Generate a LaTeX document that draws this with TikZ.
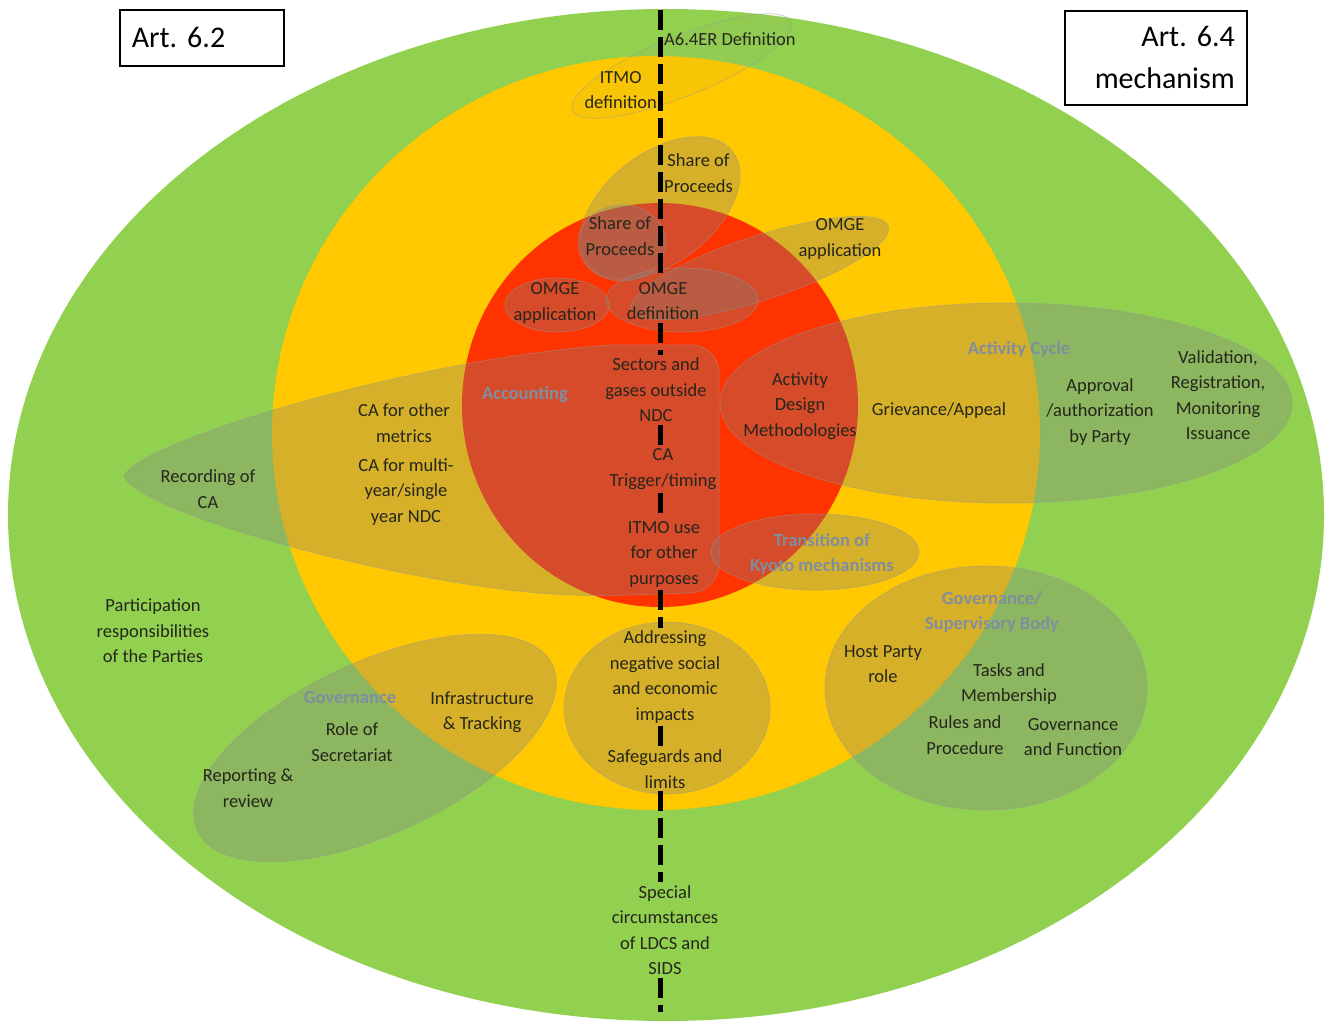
\documentclass[tikz,border=0pt]{standalone}
\usepackage{fontspec}
\setmainfont{Carlito}
\frenchspacing
\definecolor{outergreen}{RGB}{146,208,80}
\definecolor{midyellow}{RGB}{255,200,0}
\definecolor{corered}{RGB}{255,51,0}
\definecolor{txtdark}{RGB}{38,38,28}
\definecolor{graylbl}{RGB}{128,142,160}
\tikzset{
  topic/.style={fill=gray, fill opacity=0.32, draw=gray!80, draw opacity=0.45, line width=0.8pt},
  lbl/.style={align=center, text=txtdark, font=\fontsize{18.5}{25.5}\selectfont, inner xsep=1pt, inner ysep=3pt},
  glbl/.style={lbl, text=graylbl, font=\fontsize{18.5}{25.5}\selectfont\bfseries},
  divider/.style={line width=5pt, dash pattern=on 20pt off 7pt},
  artbox/.style={draw=black, line width=1.6pt, fill=white, font=\fontsize{30}{42}\selectfont, inner xsep=12pt, inner ysep=0pt}
}
\begin{document}
\begin{tikzpicture}[x=1pt,y=-1pt]
\useasboundingbox (0,0) rectangle (1333,1020);

% zones
\fill[outergreen] (666,515) ellipse [x radius=658pt, y radius=506pt];
\fill[midyellow] (656,433) ellipse [x radius=384pt, y radius=377pt];
\fill[corered] (660,405) ellipse [x radius=198pt, y radius=202pt];

% topic clusters
\draw[topic, fill opacity=0.05, rotate around={22:(682,66)}] (682,66) ellipse [x radius=118pt, y radius=30pt];
\draw[topic, rotate around={38:(660,208)}] (660,208) ellipse [x radius=92pt, y radius=55pt];
\draw[topic] (622,243) ellipse [x radius=44pt, y radius=38pt];
\draw[topic, rotate around={18:(760,268)}] (760,268) ellipse [x radius=135pt, y radius=32pt];
\draw[topic] (682,300) ellipse [x radius=76pt, y radius=32pt];
\draw[topic] (557,305) ellipse [x radius=52pt, y radius=27pt];
\draw[topic] (124,476) .. controls (140,440) and (420,358) .. (610,345)
  [rounded corners=28pt] -- (719,345) -- (719,592) -- (600,596) [sharp corners]
  .. controls (420,590) and (140,515) .. (124,476) -- cycle;
\draw[topic] (1006,403) ellipse [x radius=286pt, y radius=100pt];
\draw[topic] (815,552) ellipse [x radius=104pt, y radius=38pt];
\draw[topic] (986,688) ellipse [x radius=161pt, y radius=122pt];
\draw[topic] (667,708) ellipse [x radius=103pt, y radius=86pt];
\draw[topic, rotate around={25:(375,748)}] (375,748) ellipse [x radius=196pt, y radius=86pt];

% article boxes
\node[artbox, anchor=north west, text width=140pt, minimum height=56pt, align=left] (art62) at (119,9) {Art. 6.2};
\node[artbox, anchor=north west, text width=158pt, minimum height=94pt, align=right] (art64) at (1064,10) {Art. 6.4\\mechanism};

% labels
\node[lbl, anchor=west] (a64er) at (663,39) {A6.4ER Definition};
\node[lbl, anchor=east] (itmodef) at (658,90) {ITMO\\definition};
\node[lbl, anchor=west] (sopup) at (663,173) {Share of\\Proceeds};
\node[lbl] (soplow) at (620,236) {Share of\\Proceeds};
\node[lbl] (omgeappr) at (840,239) {OMGE\\application};
\node[lbl] (omgeappl) at (555,303) {OMGE\\application};
\node[lbl] (omgedef) at (663,301) {OMGE\\definition};
\node[lbl] (sectors) at (656,390) {Sectors and\\gases outside\\NDC};
\node[lbl] (catrig) at (663,469) {CA\\Trigger/timing};
\node[lbl] (itmouse) at (664,554) {ITMO use\\for other\\purposes};
\node[glbl] (acct) at (525,395) {Accounting};
\node[lbl] (caother) at (404,423) {CA for other\\metrics};
\node[lbl] (camulti) at (406,492) {CA for multi-\\year/single\\year NDC};
\node[lbl] (recca) at (208,489) {Recording of\\CA};
\node[glbl] (actcyc) at (1019,349) {Activity Cycle};
\node[lbl] (actdesign) at (800,406) {Activity\\Design\\Methodologies};
\node[lbl] (griev) at (939,411) {Grievance/Appeal};
\node[lbl] (approval) at (1100,412) {Approval\\/authorization\\by Party};
\node[lbl] (validation) at (1218,395) {Validation,\\Registration,\\Monitoring\\Issuance};
\node[glbl] (kyoto) at (822,554) {Transition of\\Kyoto mechanisms};
\node[glbl] (govsup) at (992,612) {Governance/\\Supervisory Body};
\node[lbl] (hostparty) at (883,664) {Host Party\\role};
\node[lbl] (tasks) at (1009,684) {Tasks and\\Membership};
\node[lbl] (rules) at (965,735) {Rules and\\Procedure};
\node[lbl] (govfunc) at (1073,737) {Governance\\and Function};
\node[lbl] (particip) at (153,631) {Participation\\responsibilities\\of the Parties};
\node[glbl] (govleft) at (350,697) {Governance};
\node[lbl] (secretariat) at (352,742) {Role of\\Secretariat};
\node[lbl] (infra) at (482,712) {Infrastructure\\\& Tracking};
\node[lbl] (reporting) at (248,788) {Reporting \&\\review};
\node[lbl] (addressing) at (665,677) {Addressing\\negative social\\and economic\\impacts};
\node[lbl] (safeg) at (665,769) {Safeguards and\\limits};
\node[lbl] (special) at (665,930) {Special\\circumstances\\of LDCS and\\SIDS};

% 6.2 / 6.4 divider
\coordinate (ltop) at (660,10);
\coordinate (lbot) at (660,1012);
\draw[divider] (ltop) -- (ltop |- omgedef.north);
\draw[divider] (ltop |- omgedef.south) -- (ltop |- sectors.north);
\draw[divider] (ltop |- sectors.south) -- (ltop |- catrig.north);
\draw[divider] (ltop |- catrig.south) -- (ltop |- itmouse.north);
\draw[divider] (ltop |- itmouse.south) -- (ltop |- addressing.north);
\draw[divider] (ltop |- addressing.south) -- (ltop |- safeg.north);
\draw[divider] (ltop |- safeg.south) -- (ltop |- special.north);
\draw[divider] (ltop |- special.south) -- (lbot);
\end{tikzpicture}
\end{document}
